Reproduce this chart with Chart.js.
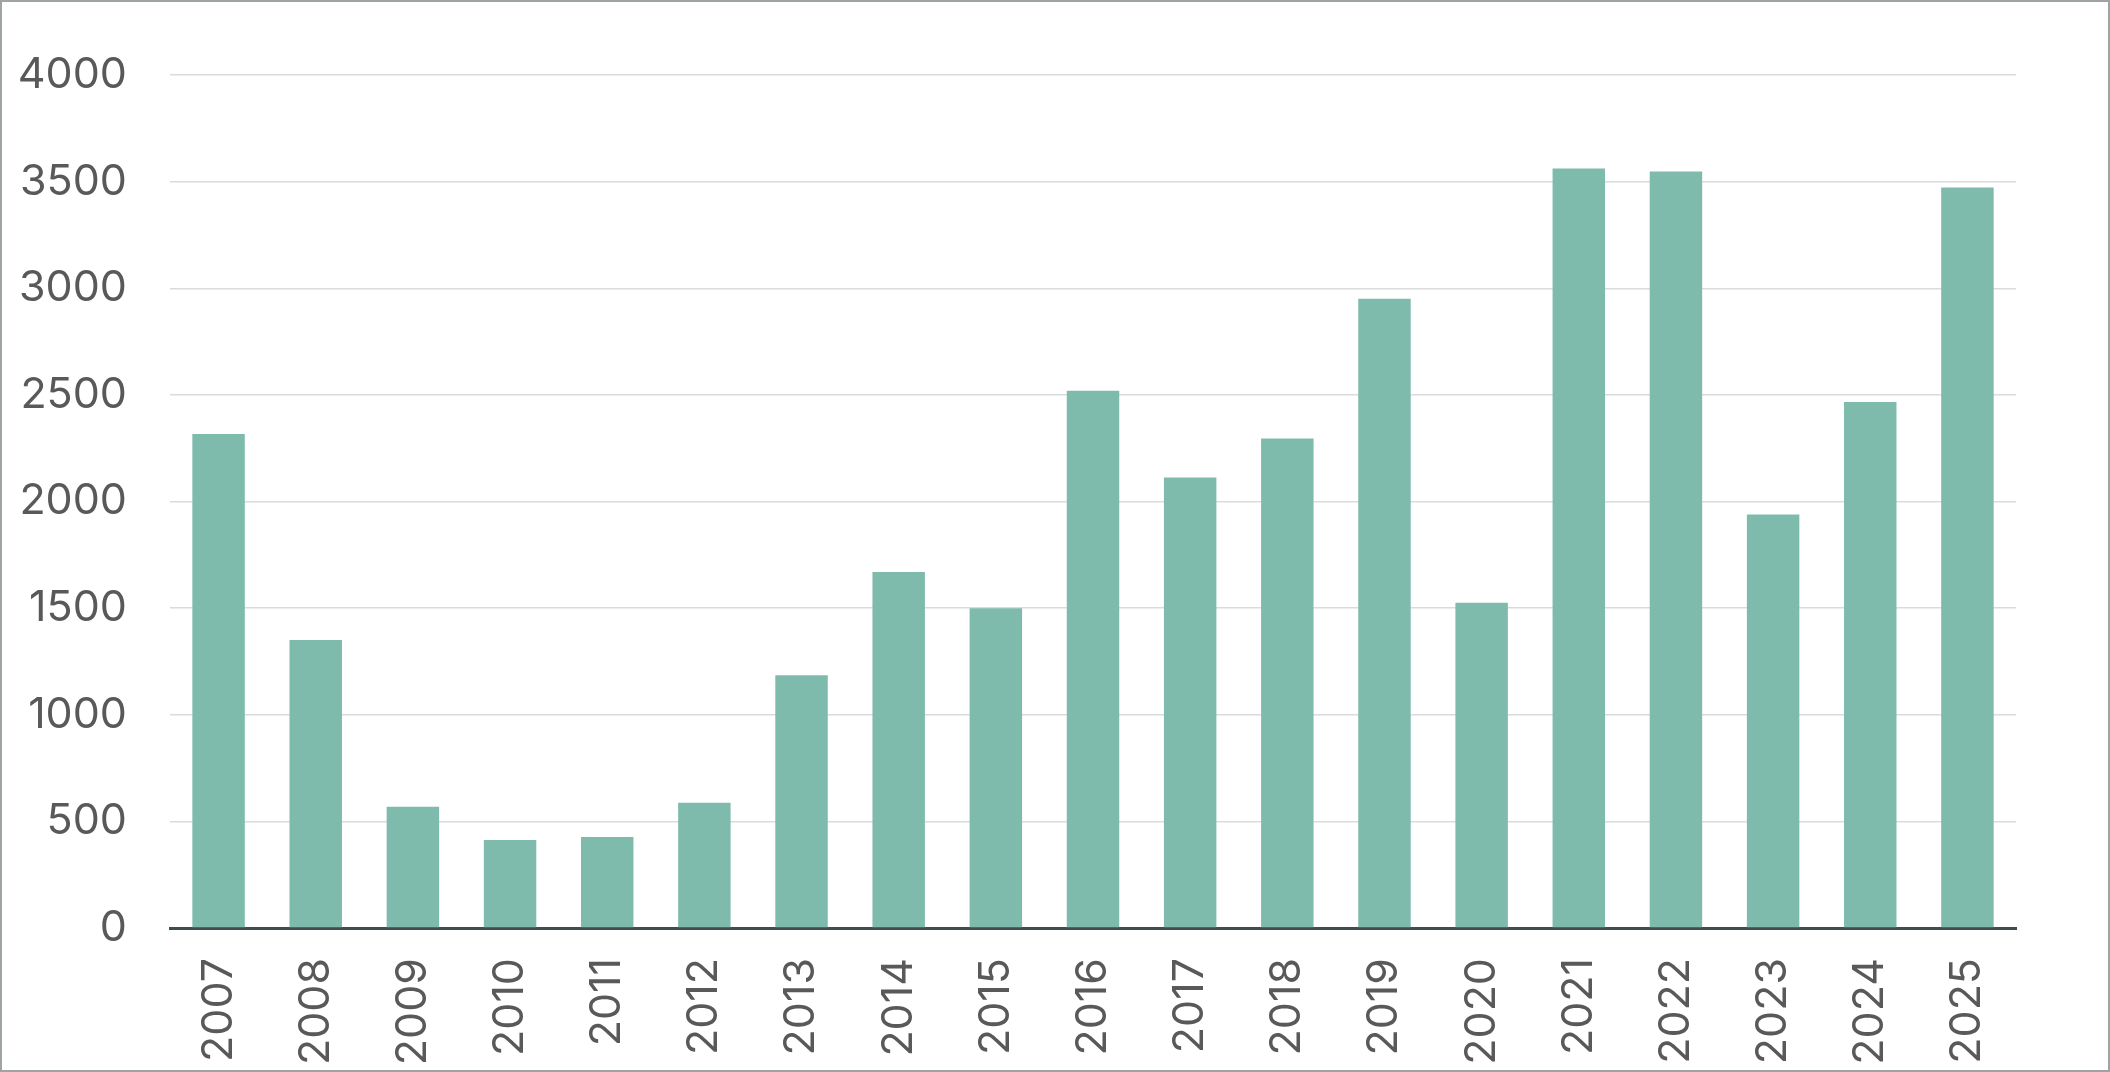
<!DOCTYPE html>
<html>
<head>
<meta charset="utf-8">
<script src="https://cdn.jsdelivr.net/npm/chart.js@4"></script>
<style>
	html, body { margin: 0; padding: 0; background: #fff; }
	#frame {
		width: 2110px; height: 1072px;
		box-sizing: border-box;
		border: 2px solid #9ea3a3;
		background: #fff;
	}
	#chart-1 { display: block; }
</style>
</head>
<body>
<div id="frame"><canvas id="chart-1" width="2106" height="1068"></canvas></div>
<script>

var years = ["2007", "2008", "2009", "2010", "2011", "2012", "2013", "2014", "2015", "2016",
	"2017", "2018", "2019", "2020", "2021", "2022", "2023", "2024", "2025"];
var counts = [2317, 1350, 568, 413, 427, 587, 1185, 1669, 1500, 2519,
	2113, 2296, 2951, 1525, 3562, 3548, 1939, 2467, 3473];
var yTicks = [0, 500, 1000, 1500, 2000, 2500, 3000, 3500, 4000];

var labelColour = "#595959";
var barColour = "#7fbbac";

function makeBarGraph() {

	var data1 = {
		labels: years,
		datasets: [{
			label: "Count",
			backgroundColor: barColour,
			borderWidth: 0,
			data: counts,
			barPercentage: 0.54,
			categoryPercentage: 1.0
		}]
	};

	var options1 = {
		responsive: false,
		animation: false,
		layout: {
			padding: { top: 73, right: 92, bottom: 0, left: 0 }
		},
		plugins: {
			legend: { display: false },
			tooltip: { enabled: false }
		},
		scales: {
			x: {
				grid: {
					display: false,
					drawTicks: false
				},
				border: {
					display: true,
					color: "#3e4d4e",
					width: 3
				},
				ticks: {
					minRotation: 90,
					maxRotation: 90,
					autoSkip: false,
					padding: 30,
					color: labelColour,
					font: { family: "Inter", size: 43 }
				},
				afterFit: function(axis) { axis.height = 142; }
			},
			y: {
				min: 0,
				max: 4000,
				afterBuildTicks: function(axis) {
					axis.ticks = yTicks.map(function(v) { return { value: v }; });
				},
				grid: {
					drawTicks: false,
					color: "#d9dcdc",
					lineWidth: 1.5
				},
				border: { display: false },
				ticks: {
					padding: 43,
					color: labelColour,
					font: { family: "Inter", size: 43 },
					callback: function(value) { return String(value); }
				},
				afterFit: function(axis) { axis.width = 168; }
			}
		}
	};

	var graph = new Chart('chart-1', {
		type: 'bar',
		data: data1,
		options: options1
	});
}

makeBarGraph();
</script>
</body>
</html>
